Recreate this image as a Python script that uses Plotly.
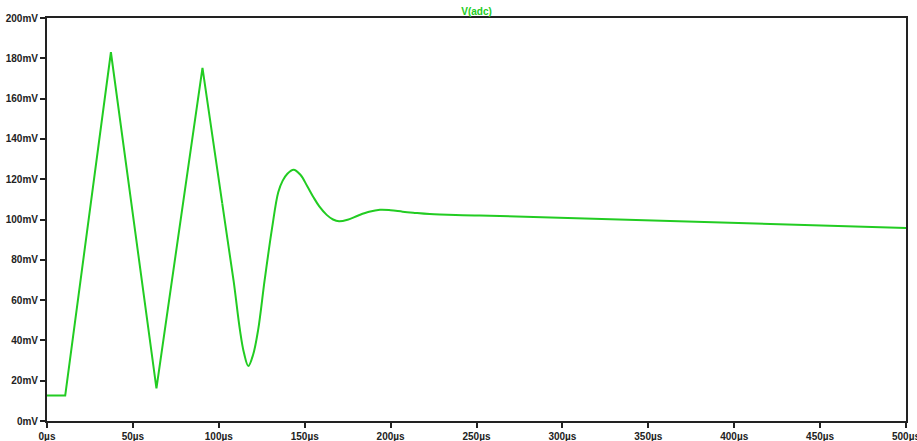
import plotly.graph_objects as go

# Time (µs) and voltage (mV)
# Sharp triangular part (straight segments)
t_ramp_us = [0, 10.6, 37.2, 63.7, 90.5, 102.0]
v_ramp_mV = [12.6, 12.6, 183.0, 16.2, 175.2, 108.0]
# Smooth ringing / settling part
t_ring_us = [102.0, 105.0, 108.7, 112.3, 114.6, 117.2, 120.0, 122.9, 126.7, 131.0,
             134.6, 137.2, 139.8, 143.5, 147.5, 151.5, 155.0, 158.5, 162.8, 166.5,
             170.0, 175.0, 181.2, 187.5, 193.8, 200.0, 207.0, 213.1, 222.8, 251.9, 500.0]
v_ring_mV = [108.0, 90.5, 69.0, 45.2, 34.0, 27.3, 33.0, 45.2, 70.0, 95.7,
             113.5, 119.3, 122.6, 124.7, 122.2, 116.5, 111.2, 106.5, 102.3, 100.0,
             99.1, 99.9, 102.0, 103.8, 104.8, 104.6, 103.9, 103.4, 102.7, 102.0, 95.8]

x_ticks = [0, 50, 100, 150, 200, 250, 300, 350, 400, 450, 500]
x_labels = [f"{v}µs" for v in x_ticks]
y_ticks = [0, 20, 40, 60, 80, 100, 120, 140, 160, 180, 200]
y_labels = [f"{v}mV" for v in y_ticks]

green = "rgb(34,204,34)"
ff = "Liberation Sans, Arial, sans-serif"

fig = go.Figure()
fig.add_trace(go.Scatter(x=t_ramp_us, y=v_ramp_mV, mode="lines",
                         line=dict(color=green, width=2), showlegend=False))
fig.add_trace(go.Scatter(x=t_ring_us, y=v_ring_mV, mode="lines",
                         line=dict(color=green, width=2, shape="spline", smoothing=1.0),
                         showlegend=False))

fig.update_layout(
    width=917, height=441,
    margin=dict(l=47, r=11, t=18, b=20),
    paper_bgcolor="white", plot_bgcolor="white",
    font=dict(family=ff, size=10, color="#222222"),
    title=dict(text="<b>V(adc)</b>", x=(47 + 906) / 2 / 917, xanchor="center",
               y=1 - 11 / 441, yanchor="middle",
               font=dict(family=ff, size=10, color=green)),
)
axis_common = dict(showgrid=False, zeroline=False, showline=True, linecolor="#222222",
                   linewidth=2, mirror=True, ticks="outside", ticklen=5, tickwidth=2,
                   tickcolor="#222222", automargin=False, ticklabeloverflow="allow",
                   tickfont=dict(family=ff, size=10, color="#222222", weight="bold"))
fig.update_xaxes(range=[0, 500], tickvals=x_ticks, ticktext=x_labels, ticklabelstandoff=0,
                 **axis_common)
fig.update_yaxes(range=[0, 200], tickvals=y_ticks, ticktext=y_labels, ticklabelstandoff=0,
                 **axis_common)

fig.write_html("out.html")
